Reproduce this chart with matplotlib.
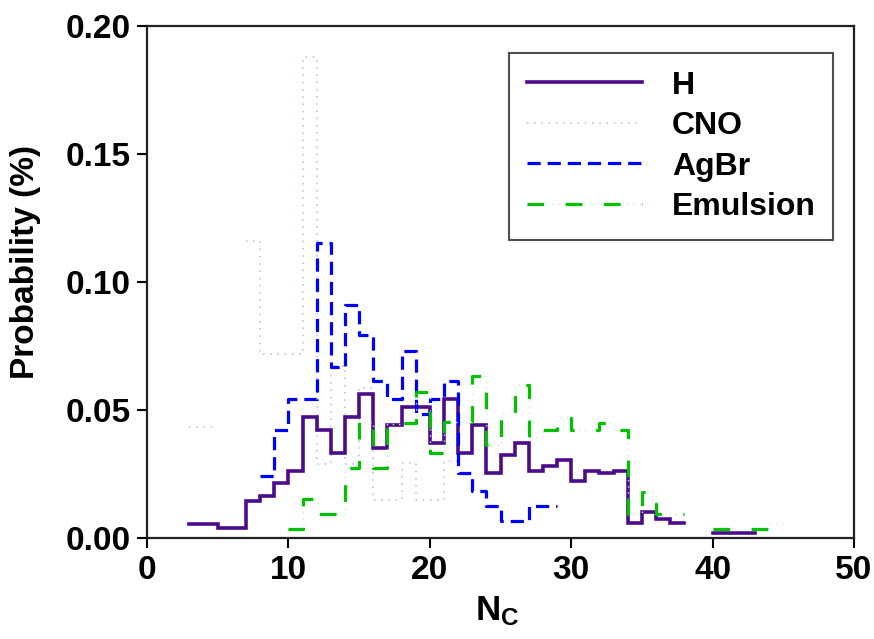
import numpy as np
import matplotlib
matplotlib.use("Agg")
import matplotlib.pyplot as plt
from matplotlib.legend_handler import HandlerTuple

nan = np.nan

# ---- data (bin left edges, bin width 1) ----
h_start = 3
h_vals = [0.0056, 0.0056, 0.0038, 0.0038, 0.0145, 0.0163, 0.0214, 0.0263, 0.0473, 0.0422,
          0.0331, 0.0473, 0.0561, 0.0352, 0.0440, 0.0512, 0.0512, 0.0373, 0.0543, 0.0331,
          0.0442, 0.0253, 0.0323, 0.0372, 0.0263, 0.0283, 0.0303, 0.0221, 0.0262, 0.0253,
          0.0263, 0.0057, 0.0103, 0.0073, 0.0057, nan, nan, 0.0020, 0.0020, 0.0020]

cno_start = 3
cno_vals = [0.0435, 0.0435, nan, nan, 0.116, 0.072, 0.072, 0.072, 0.188, 0.029,
            0.067, 0.029, 0.0585, 0.0148, 0.0148, 0.0294, 0.0148, 0.0148, 0.030]

agbr_start = 8
agbr_vals = [0.0243, 0.0422, 0.0543, 0.0543, 0.1151, 0.0669, 0.0911, 0.0793, 0.0615, 0.0543,
             0.0732, 0.0483, 0.0542, 0.0612, 0.0253, 0.0184, 0.0125, 0.0068, 0.0068, 0.0125,
             0.0125]

emu_start = 10
emu_vals = [0.0034, 0.0152, 0.0094, 0.0094, 0.0272, 0.0452, 0.0272, 0.0445, 0.0450, 0.0572,
            0.0333, 0.0454, 0.0454, 0.0633, 0.0363, 0.0487, 0.0598, 0.0396, 0.0420, 0.0470,
            0.0420, 0.0420, 0.0450, 0.0420, 0.0093, 0.0180, 0.0094, 0.0094, nan, nan,
            0.0034, 0.0034, 0.0034, 0.0034, 0.0060]

labels = ["H", "CNO", "AgBr", "Emulsion"]
x_ticks = [0, 10, 20, 30, 40, 50]
y_ticks = [0.00, 0.05, 0.10, 0.15, 0.20]

# ---- style ----
plt.rcParams["font.family"] = ["Liberation Sans", "DejaVu Sans"]
plt.rcParams["font.weight"] = "bold"
plt.rcParams["mathtext.fontset"] = "custom"
plt.rcParams["mathtext.rm"] = "Liberation Sans:bold"
plt.rcParams["mathtext.bf"] = "Liberation Sans:bold"
plt.rcParams["mathtext.it"] = "Liberation Sans:bold"
plt.rcParams["lines.scale_dashes"] = False

fig = plt.figure(figsize=(8.74, 6.39), dpi=100)
ax = fig.add_axes([147 / 874, 1 - 538 / 639, (854 - 147) / 874, (538 - 26) / 639])


def step_xy(start, vals):
    x = start + np.arange(len(vals) + 1)
    y = list(vals) + [vals[-1]]
    return x, y


H_COL = "#4B0C8C"
CNO_COL = "#CACAEE"
AG_COL = "#0000FF"
EM_COL = "#00C000"
EM_FAINT = "#C4F0C4"

x, y = step_xy(cno_start, cno_vals)
l_cno, = ax.step(x, y, where="post", color=CNO_COL, lw=1.4, linestyle=(0, (1.2, 4.0)))

x, y = step_xy(h_start, h_vals)
l_h, = ax.step(x, y, where="post", color=H_COL, lw=2.6, solid_joinstyle="miter")

x, y = step_xy(agbr_start, agbr_vals)
l_ag, = ax.step(x, y, where="post", color=AG_COL, lw=2.3, linestyle=(0, (9.5, 5.0)))

x, y = step_xy(emu_start, emu_vals)
l_emf, = ax.step(x, y, where="post", color=EM_FAINT, lw=1.0, linestyle=(0, (1.0, 3.5)))
l_em, = ax.step(x, y, where="post", color=EM_COL, lw=2.3, linestyle=(0, (12.0, 15.5)))

ax.set_xlim(0, 50)
ax.set_ylim(0, 0.20)
ax.set_xticks(x_ticks)
ax.set_yticks(y_ticks)
ax.set_xticklabels([str(v) for v in x_ticks])
ax.set_yticklabels([f"{v:.2f}" for v in y_ticks])
ax.tick_params(axis="both", direction="out", length=7, width=1.5, labelsize=24, pad=5)
for sp in ax.spines.values():
    sp.set_linewidth(1.6)
    sp.set_color("#222222")

ax.set_xlabel(r"N$_{\mathrm{C}}$", fontsize=25, fontweight="bold")
ax.xaxis.set_label_coords((497 - 147) / 707, -(594 - 538) / 512)
ax.set_ylabel("Probability (%)", fontsize=24, fontweight="bold")
ax.yaxis.set_label_coords(-(147 - 41) / 707, (538 - 262) / 512)

leg = ax.legend([l_h, l_cno, l_ag, (l_emf, l_em)], labels,
                handler_map={tuple: HandlerTuple(ndivide=1)},
                loc="upper left", bbox_to_anchor=((509 - 147) / 707, (538 - 53) / 512),
                borderaxespad=0, fontsize=23, frameon=True, fancybox=False,
                edgecolor="#222222", handlelength=3.6, handletextpad=0.95,
                labelspacing=0.33, borderpad=0.55)
leg.get_frame().set_linewidth(1.5)
for t in leg.get_texts():
    t.set_fontweight("bold")

fig.savefig("out.png", dpi=100)
